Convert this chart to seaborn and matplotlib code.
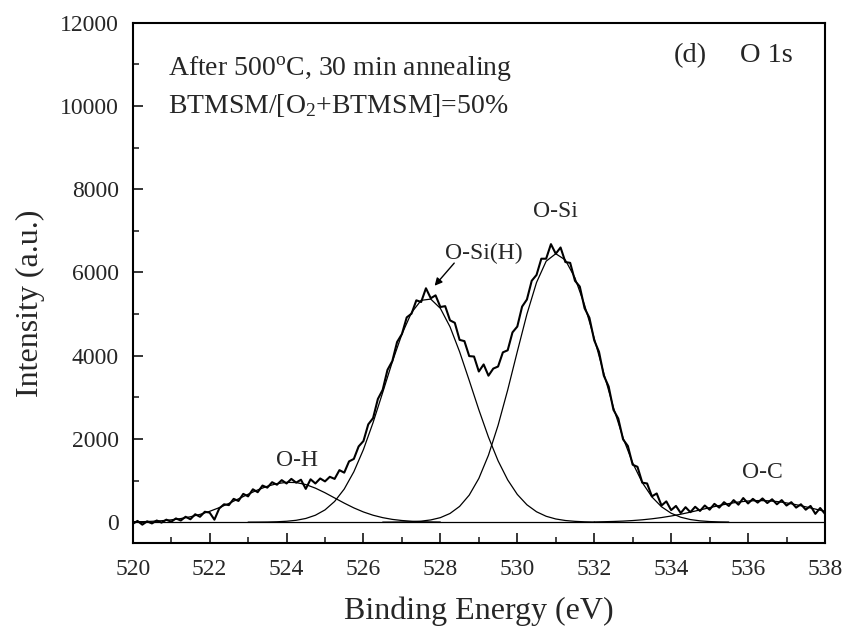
import numpy as np
import pandas as pd
import matplotlib
matplotlib.use("Agg")
import matplotlib.pyplot as plt
from matplotlib.ticker import MultipleLocator
import seaborn as sns

# ---------------- data ----------------
# measured spectrum, 0.125 eV steps from 520.0 to 538.0 eV
spec_x = np.arange(520.0, 538.0001, 0.125)
spec_y = [
    -40, 30, -60, 20, -30, 40, -10, 60,
    10, 90, 40, 130, 70, 190, 130, 250,
    230, 60, 330, 430, 410, 560, 510, 680,
    620, 790, 720, 880, 830, 960, 900, 1010,
    930, 1040, 950, 1020, 800, 1030, 930, 1050,
    980, 1090, 1040, 1250, 1190, 1460, 1520, 1820,
    1950, 2350, 2500, 2960, 3180, 3660, 3870, 4330,
    4520, 4920, 5010, 5330, 5290, 5620, 5380, 5450,
    5170, 5190, 4850, 4790, 4380, 4350, 3990, 3980,
    3620, 3790, 3520, 3690, 3740, 4080, 4130, 4560,
    4700, 5180, 5350, 5800, 5940, 6330, 6330, 6680,
    6450, 6600, 6250, 6230, 5800, 5660, 5140, 4910,
    4370, 4090, 3520, 3260, 2700, 2490, 1990, 1830,
    1380, 1330, 950, 930, 620, 690, 400, 500,
    290, 390, 220, 360, 240, 370, 270, 400,
    300, 440, 350, 480, 390, 530, 420, 580,
    450, 560, 470, 570, 460, 550, 430, 530,
    400, 480, 350, 430, 300, 390, 200, 340,
    200,
]

# fitted components, 0.25 eV steps
oh_x = np.arange(520.0, 528.0001, 0.25)
oh_y = [7, 12, 21, 35, 56, 87, 130, 187, 260, 349, 450, 560, 671, 775, 863,
        926, 957, 952, 904, 818, 707, 582, 458, 343, 245, 167, 109, 67, 40,
        23, 12, 6, 3]

osih_x = np.arange(523.0, 532.0001, 0.25)
osih_y = [1, 2, 4, 10, 22, 45, 89, 167, 295, 498, 796, 1211, 1747, 2393, 3115,
          3850, 4518, 5036, 5330, 5360, 5137, 4695, 4094, 3405, 2701, 2044,
          1475, 1016, 667, 418, 250, 142, 77, 40, 20, 9, 4]

osi_x = np.arange(526.5, 535.5001, 0.25)
osi_y = [1, 2, 5, 11, 25, 54, 109, 209, 379, 650, 1051, 1609, 2326, 3175, 4098,
         4998, 5759, 6270, 6450, 6299, 5868, 5214, 4420, 3573, 2755, 2026,
         1422, 951, 607, 370, 215, 119, 63, 32, 15, 7, 3]

oc_x = np.arange(532.0, 538.0001, 0.25)
oc_y = [6, 11, 17, 26, 39, 57, 81, 111, 148, 191, 241, 294, 348, 400, 447,
        484, 509, 519, 515, 496, 463, 420, 369, 315, 262]

base_x = [520.0, 538.0]
base_y = [0, 0]

peak_labels = ["O-H", "O-Si(H)", "O-Si", "O-C"]
peak_label_x = [524.28, 529.12, 531.0, 536.36]
peak_label_y = [1360, 6320, 7330, 1065]

x_ticks = [520, 522, 524, 526, 528, 530, 532, 534, 536, 538]
y_ticks = [0, 2000, 4000, 6000, 8000, 10000, 12000]

# ---------------- style ----------------
sns.set_style("ticks")
plt.rcParams["font.family"] = ["Liberation Serif", "DejaVu Serif"]
plt.rcParams["mathtext.fontset"] = "custom"
plt.rcParams["mathtext.rm"] = "Liberation Serif"
plt.rcParams["mathtext.it"] = "Liberation Serif:italic"

fig = plt.figure(figsize=(8.49, 6.33), dpi=100)
ax = fig.add_axes([0.1563, 0.1422, 0.8154, 0.8219])

def draw(xs, ys, lw):
    df = pd.DataFrame({"x": xs, "y": ys})
    sns.lineplot(data=df, x="x", y="y", ax=ax, color="black", lw=lw,
                 sort=False, estimator=None, errorbar=None)

draw(base_x, base_y, 0.9)
draw(oh_x, oh_y, 0.9)
draw(osih_x, osih_y, 0.9)
draw(osi_x, osi_y, 0.9)
draw(oc_x, oc_y, 0.9)
draw(spec_x, spec_y, 1.5)

ax.set_xlim(520, 538)
ax.set_ylim(-500, 12000)
ax.set_xticks(x_ticks)
ax.set_yticks(y_ticks)
ax.xaxis.set_minor_locator(MultipleLocator(1))
ax.yaxis.set_minor_locator(MultipleLocator(1000))
ax.tick_params(axis="both", which="major", direction="in", length=7,
               width=1.3, labelsize=17, top=False, right=False)
ax.tick_params(axis="x", which="major", pad=11.5)
ax.tick_params(axis="y", which="major", pad=10)
ax.tick_params(axis="both", which="minor", direction="in", length=4,
               width=1.2, top=False, right=False)
for s in ax.spines.values():
    s.set_linewidth(1.5)
    s.set_color("black")

ax.set_xlabel("Binding Energy (eV)", fontsize=23)
ax.set_ylabel("Intensity (a.u.)", fontsize=23)
ax.xaxis.set_label_coords(0.5, -0.1028)
ax.yaxis.set_label_coords(-0.127, 0.461)

for lab, lx, ly in zip(peak_labels, peak_label_x, peak_label_y):
    ax.text(lx, ly, lab, fontsize=17, ha="center", va="baseline")

ax.annotate("", xy=(527.85, 5680), xytext=(528.36, 6225),
            arrowprops=dict(arrowstyle="-|>", color="black", lw=1.0,
                            mutation_scale=11, shrinkA=0, shrinkB=0))

ax.text(520.92, 10745, r"After 500$^{\mathrm{o}}$C, 30 min annealing",
        fontsize=20, ha="left", va="baseline")
ax.text(520.92, 9825, r"BTMSM/[O$_{2}$+BTMSM]=50%",
        fontsize=20, ha="left", va="baseline")
ax.text(534.51, 11063, "(d)", fontsize=20.5, ha="center", va="baseline")
ax.text(535.8, 11063, "O 1s", fontsize=20.5, ha="left", va="baseline")

fig.savefig("out.png", dpi=100)
